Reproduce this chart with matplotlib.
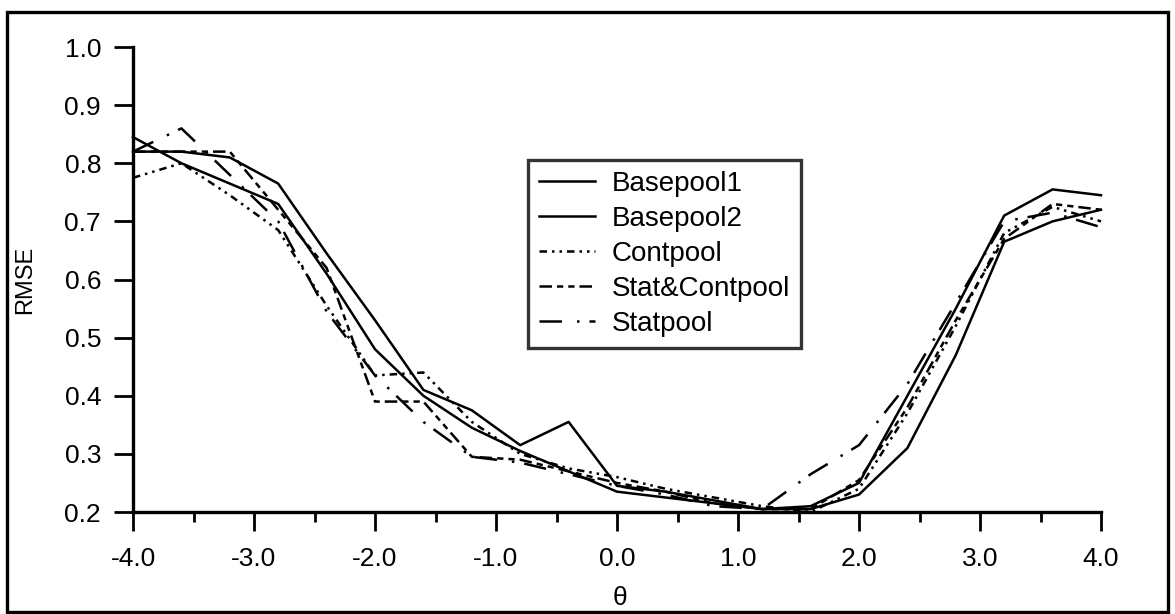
import numpy as np
import matplotlib
matplotlib.use("Agg")
from matplotlib import pyplot as plt
from matplotlib.patches import Rectangle

plt.rcParams['font.family'] = ['Liberation Sans', 'DejaVu Sans']

# theta grid, step 0.4
theta = [-4.0, -3.6, -3.2, -2.8, -2.4, -2.0, -1.6, -1.2, -0.8, -0.4, 0.0,
         0.4, 0.8, 1.2, 1.6, 2.0, 2.4, 2.8, 3.2, 3.6, 4.0]

basepool1 = [0.82, 0.82, 0.81, 0.765, 0.645, 0.53, 0.41, 0.375, 0.315, 0.355, 0.245,
             0.235, 0.22, 0.205, 0.205, 0.23, 0.31, 0.47, 0.665, 0.70, 0.72]
basepool2 = [0.845, 0.80, 0.765, 0.73, 0.61, 0.48, 0.40, 0.345, 0.305, 0.27, 0.235,
             0.225, 0.215, 0.205, 0.21, 0.25, 0.40, 0.55, 0.71, 0.755, 0.745]
contpool = [0.775, 0.80, 0.745, 0.685, 0.555, 0.435, 0.44, 0.355, 0.30, 0.275, 0.26,
            0.24, 0.225, 0.21, 0.20, 0.24, 0.37, 0.52, 0.68, 0.725, 0.70]
statcontpool = [0.82, 0.82, 0.82, 0.72, 0.62, 0.39, 0.39, 0.295, 0.29, 0.27, 0.25,
                0.235, 0.215, 0.205, 0.205, 0.255, 0.38, 0.53, 0.67, 0.73, 0.72]
statpool = [0.82, 0.86, 0.78, 0.70, 0.545, 0.435, 0.355, 0.295, 0.285, 0.265, 0.245,
            0.23, 0.21, 0.205, 0.265, 0.315, 0.42, 0.56, 0.70, 0.715, 0.69]

labels = ['Basepool1', 'Basepool2', 'Contpool', 'Stat&Contpool', 'Statpool']
series = [basepool1, basepool2, contpool, statcontpool, statpool]
styles = ['-', '-', (0, (3, 2, 1, 2, 1, 2)), (0, (5, 2, 2.5, 2, 2.5, 2)), (0, (9, 6, 1, 4))]

W, H = 1175, 614
fig = plt.figure(figsize=(W / 100, H / 100), dpi=100)
ax = fig.add_axes([133 / W, 1 - 512 / H, (1101 - 133) / W, (512 - 47) / H])

for vals, lab, ls in zip(series, labels, styles):
    ax.plot(theta, vals, color='black', lw=1.8, ls=ls, label=lab, clip_on=False)

ax.set_xlim(-4, 4)
ax.set_ylim(0.2, 1.0)
for s in ['top', 'right']:
    ax.spines[s].set_visible(False)
for s in ['left', 'bottom']:
    ax.spines[s].set_linewidth(2.4)

ax.set_xticks(np.arange(-4, 4.01, 1.0))
ax.set_xticks(np.arange(-3.5, 4.0, 1.0), minor=True)
ax.set_xticklabels(['%.1f' % v for v in np.arange(-4, 4.01, 1.0)])
ax.set_yticks(np.arange(0.2, 1.001, 0.1))
ax.set_yticklabels(['%.1f' % v for v in np.arange(0.2, 1.001, 0.1)])
ax.tick_params(axis='both', which='major', direction='out', length=14, width=2,
               labelsize=19, color='black')
ax.tick_params(axis='x', which='major', pad=11)
ax.tick_params(axis='y', which='major', pad=9)
ax.tick_params(axis='x', which='minor', direction='out', length=7, width=2)

ax.set_ylabel('RMSE', fontsize=17)
ax.yaxis.set_label_coords(-0.1, 0.5)
ax.set_xlabel('θ', fontsize=19)
ax.xaxis.set_label_coords(0.503, -0.16)

leg = ax.legend(loc='upper left', bbox_to_anchor=(528 / W, 1 - 160 / H),
                bbox_transform=fig.transFigure, borderaxespad=0, fontsize=20,
                frameon=True, fancybox=False, handlelength=2.0, handletextpad=0.6,
                labelspacing=0.32, borderpad=0.4)
leg.get_frame().set_edgecolor('black')
leg.get_frame().set_linewidth(2.4)

fig.patches.append(Rectangle((7 / W, 1 - 612 / H), (1168 - 7) / W, (612 - 12) / H,
                             transform=fig.transFigure, fill=False, lw=2.4, ec='black'))

fig.savefig('out.png', dpi=100)
